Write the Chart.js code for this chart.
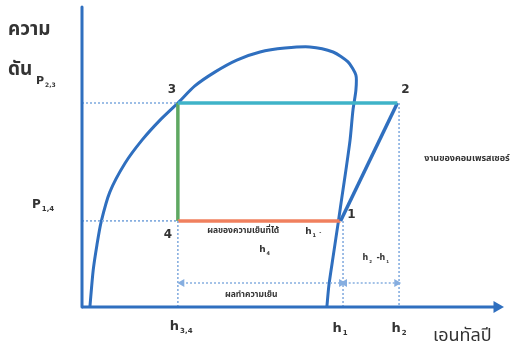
<!DOCTYPE html>
<html><head><meta charset="utf-8">
<script src="https://cdn.jsdelivr.net/npm/chart.js@4"></script>
<style>html,body{margin:0;padding:0;background:#fff;}#wrap{width:513px;height:347px;}</style>
</head><body><div id="wrap"><canvas id="c" width="513" height="347"></canvas></div>
<script>
// Enthalpy (x) and pressure (y) in relative units 0..100
const h34 = 23.1, h1 = 62.3, h2 = 76;
const P23 = 68, P14 = 28.7;
const domeH = [1.9, 2.7, 3.6, 4.6, 6.7, 10.4, 14.5, 18.8, 23.1, 27.2, 32, 37.3, 42.9, 48.9, 54.9, 60.5, 64.1, 66, 66, 65.3, 64.6, 63.6, 62.7, 61.8, 60.5, 59.5, 59];
const domeP = [0, 12.3, 20.7, 28.3, 38.3, 48, 55.7, 62.3, 68, 73.7, 78.3, 82.3, 85, 86.3, 86.7, 85, 81.7, 77.3, 72.3, 65.7, 55.7, 45.7, 37.3, 28.7, 16.7, 7.3, 0];
const cycleH = [h34, h2, h1, h34, h34]; // 3 -> 2 -> 1 -> 4 -> 3
const cycleP = [P23, P23, P14, P14, P23];
const arrowP = 8;
const pointNames = ['3', '2', '1', '4'];
const xTickLabels = [['h', '3,4'], ['h', '1'], ['h', '2']];
const yLabels = [['P', '2,3'], ['P', '1,4']];
const axisTitleY = ['ความ', 'ดัน'];
const axisTitleX = 'เอนทัลปี';
const noteEvap = 'ผลของความเย็นที่ได้';
const noteRef = 'ผลทำความเย็น';
const noteComp = 'งานของคอมเพรสเซอร์';

const pts = (xs, ys) => xs.map((x, i) => ({x, y: ys[i]}));
const BLUE = '#2f6fbf', DOT = '#86aee0';
const dotted = (data) => ({data, showLine: true, borderColor: DOT, borderWidth: 1.6, borderDash: [2, 2], pointRadius: 0, clip: false});

const labelPlugin = {
  id: 'labels',
  afterDatasetsDraw(chart) {
    const c = chart.ctx, xs = chart.scales.x, ys = chart.scales.y;
    const X = v => xs.getPixelForValue(v), Y = v => ys.getPixelForValue(v);
    c.save();
    c.fillStyle = '#333';
    c.textBaseline = 'alphabetic';
    const sub = (main, s, x, y, fs) => {
      c.font = 'bold ' + fs + 'px "DejaVu Sans", sans-serif';
      c.textAlign = 'left';
      c.fillText(main, x, y);
      const w = c.measureText(main).width;
      c.font = 'bold ' + Math.round(fs * 0.55) + 'px "DejaVu Sans", sans-serif';
      c.fillText(s, x + w + 1, y + 3);
    };
    // point numbers
    c.font = 'bold 12px "DejaVu Sans", sans-serif';
    c.textAlign = 'center';
    c.fillText(pointNames[0], X(h34) - 6, Y(P23) - 10);
    c.fillText(pointNames[1], X(h2) + 8, Y(P23) - 10);
    c.fillText(pointNames[2], X(h1) + 11, Y(P14) - 3);
    c.fillText(pointNames[3], X(h34) - 10, Y(P14) + 17);
    // x tick labels
    sub(xTickLabels[0][0], xTickLabels[0][1], X(h34) - 8, Y(0) + 23, 13);
    sub(xTickLabels[1][0], xTickLabels[1][1], X(h1) - 8, Y(0) + 25, 13);
    sub(xTickLabels[2][0], xTickLabels[2][1], X(h2) - 6, Y(0) + 25, 13);
    // y labels
    sub(yLabels[0][0], yLabels[0][1], X(0) - 46, Y(P23) - 19, 11);
    sub(yLabels[1][0], yLabels[1][1], X(0) - 50, Y(P14) - 13, 12);
    // axis titles
    c.font = 'bold 19px "Noto Sans Thai", "Noto Sans", sans-serif';
    c.textAlign = 'left';
    c.fillText(axisTitleY[0], 8, 35);
    c.fillText(axisTitleY[1], 8, 75);
    c.font = '18px "Noto Sans Thai", "Noto Sans", sans-serif';
    c.fillText(axisTitleX, 433, 341);
    // notes
    c.font = 'bold 8.5px "Noto Sans Thai", "Noto Sans", sans-serif';
    c.textAlign = 'center';
    c.fillText(noteEvap, X((h34 + h1) / 2) - 16, Y(P14) + 12);
    sub('h', '1', X((h34 + h1) / 2) + 46, Y(P14) + 13, 9);
    c.fillText('-', X((h34 + h1) / 2) + 60, Y(P14) + 13);
    sub('h', '4', X((h34 + h1) / 2) + 0, Y(P14) + 31, 9);
    c.font = 'bold 8.5px "Noto Sans Thai", "Noto Sans", sans-serif';
    c.textAlign = 'center';
    c.fillText(noteRef, X((h34 + h1) / 2) - 8, Y(arrowP) + 14);
    c.font = 'bold 9px "Noto Sans Thai", "Noto Sans", sans-serif';
    c.fillText(noteComp, 467, 161);
    sub('h', '2', X(h1) + 22, Y(P14) + 39, 8);
    c.font = 'bold 8px "DejaVu Sans", sans-serif';
    c.fillText('-', X(h1) + 36, Y(P14) + 39);
    sub('h', '1', X(h1) + 39, Y(P14) + 39, 8);
    c.restore();
  }
};

new Chart(document.getElementById('c'), {
  type: 'scatter',
  data: {
    datasets: [
      // axes
      {data: [{x: 0, y: 0}, {x: 0, y: 100}], showLine: true, borderColor: BLUE, borderWidth: 3, pointRadius: 0, clip: false, borderCapStyle: 'round'},
      {data: [{x: 0, y: 0}, {x: 100, y: 0}], showLine: true, borderColor: BLUE, borderWidth: 3, clip: false,
        pointStyle: 'triangle', pointRadius: [0, 4], rotation: 90, backgroundColor: BLUE, pointBorderColor: BLUE},
      // dotted guides
      dotted([{x: 0, y: P23}, {x: h34, y: P23}]),
      dotted([{x: 0, y: P14}, {x: h34, y: P14}]),
      dotted([{x: h34, y: P14}, {x: h34, y: 0}]),
      dotted([{x: h1 + 0.6, y: P14}, {x: h1 + 0.6, y: 0}]),
      dotted([{x: h2 + 0.4, y: P23}, {x: h2 + 0.4, y: 0}]),
      // dimension arrows
      {data: [{x: h34 + 1, y: arrowP}, {x: h1 + 0.2, y: arrowP}], showLine: true, borderColor: DOT, borderWidth: 1.6, borderDash: [2, 2],
        pointStyle: 'triangle', pointRadius: 3, rotation: [-90, 90], backgroundColor: DOT, pointBorderColor: DOT, clip: false},
      {data: [{x: h1 + 1, y: arrowP}, {x: h2 - 0.2, y: arrowP}], showLine: true, borderColor: DOT, borderWidth: 1.6, borderDash: [2, 2],
        pointStyle: 'triangle', pointRadius: 3, rotation: [-90, 90], backgroundColor: DOT, pointBorderColor: DOT, clip: false},
      // cycle segments
      {data: pts(cycleH.slice(0, 2), cycleP.slice(0, 2)), showLine: true, borderColor: '#3fb3c8', borderWidth: 3.5, pointRadius: 0, clip: false},
      {data: pts(cycleH.slice(1, 3), cycleP.slice(1, 3)), showLine: true, borderColor: BLUE, borderWidth: 3.5, pointRadius: 0, clip: false},
      {data: pts(cycleH.slice(2, 4), cycleP.slice(2, 4)), showLine: true, borderColor: '#f0805e', borderWidth: 3.5, pointRadius: 0, clip: false},
      {data: pts(cycleH.slice(3, 5), cycleP.slice(3, 5)), showLine: true, borderColor: '#5fa862', borderWidth: 3.5, pointRadius: 0, clip: false},
      // saturation dome
      {data: pts(domeH, domeP), showLine: true, borderColor: BLUE, borderWidth: 3, tension: 0.25, pointRadius: 0, clip: false}
    ]
  },
  options: {
    responsive: false, animation: false,
    layout: {padding: {left: 82, right: 16, top: 7, bottom: 40}},
    plugins: {legend: {display: false}, tooltip: {enabled: false}},
    scales: {
      x: {type: 'linear', min: 0, max: 100, display: false},
      y: {type: 'linear', min: 0, max: 100, display: false}
    }
  },
  plugins: [labelPlugin]
});
</script></body></html>
